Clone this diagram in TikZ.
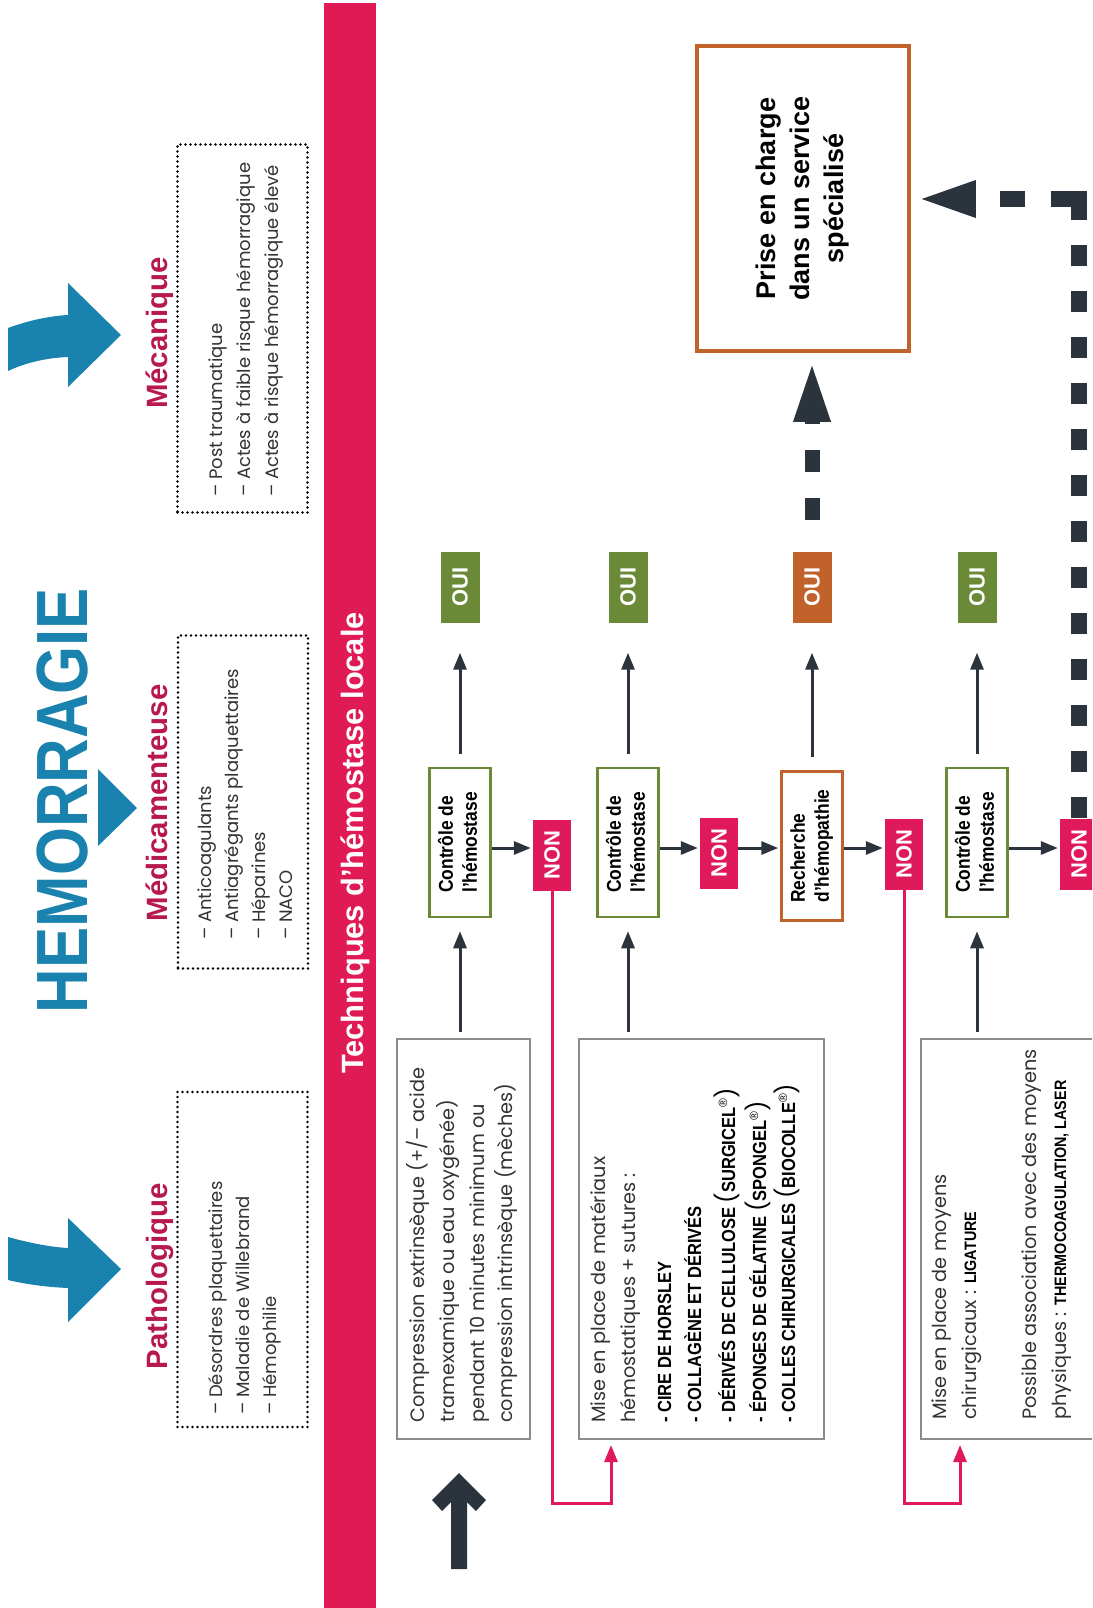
\documentclass[tikz,border=0pt]{standalone}
\usepackage{fontspec}
\usepackage{graphicx}
\setmainfont{Liberation Sans}
\newfontfamily\fut{Poppins}
\newfontfamily\hel{Liberation Sans}
\newfontfamily\helc[FakeStretch=0.87]{Liberation Sans}
\usetikzlibrary{arrows.meta}
\definecolor{blu}{HTML}{1A82AE}
\definecolor{crim}{HTML}{B7194F}
\definecolor{band}{HTML}{E01A55}
\definecolor{nonc}{HTML}{E0195A}
\definecolor{grn}{HTML}{6A8A37}
\definecolor{org}{HTML}{C0622A}
\definecolor{drk}{HTML}{2B333D}
\definecolor{bodyc}{HTML}{333333}
\definecolor{gboxc}{HTML}{8C8C8C}
\newcommand\bpar[1]{{\fut\mdseries\fontsize{23}{23}\selectfont #1}}
\newcommand\regm{\raisebox{8pt}{\hel\mdseries\fontsize{12}{12}\selectfont ®}}
\newcommand\capsb[1]{{\helc\bfseries\fontsize{16.5}{20}\selectfont\color{black}#1}}
\begin{document}
\begin{tikzpicture}[x=1pt,y=-1pt,
  rot/.style={rotate=90, inner sep=0pt},
  tline/.style={rot, anchor=base west, text=bodyc, font=\fut\fontsize{18}{22}\selectfont},
  tlineb/.style={rot, anchor=base west, text=bodyc, font=\fut\fontsize{19.3}{22}\selectfont},
  capl/.style={rot, anchor=base west, text=black, font=\helc\bfseries\fontsize{19}{22}\selectfont},
  ttl/.style={rot, anchor=base, text=crim, font=\hel\bfseries\fontsize{29.4}{32}\selectfont},
  dotbox/.style={draw=black, line width=2.6pt, dash pattern=on 0pt off 5pt, line cap=round, inner sep=0pt},
  graybox/.style={draw=gboxc, line width=2pt, inner sep=0pt, minimum height=400pt},
  ctrlbox/.style={draw=grn, line width=2.5pt, minimum width=61pt, minimum height=149pt, inner sep=0pt, font=\helc\bfseries\fontsize{20}{24}\selectfont},
  ouibox/.style={fill=grn, minimum width=39pt, minimum height=71pt, inner sep=0pt, text=white, font=\hel\bfseries\fontsize{22}{22}\selectfont},
  nonbox/.style={fill=nonc, minimum width=38pt, minimum height=71pt, inner sep=0pt, text=white, font=\hel\bfseries\fontsize{22}{22}\selectfont},
  arr/.style={draw=drk, line width=3pt, -{Triangle[length=17pt,width=13pt]}},
  parr/.style={draw=nonc, line width=3pt, -{Triangle[length=17pt,width=13pt]}},
  thdash/.style={draw=drk, line width=16pt}
]
\clip (0,0) rectangle (1092,1608);
\useasboundingbox (0,0) rectangle (1092,1608);
\fill[white] (0,0) rectangle (1092,1608);

% ---- title and blue arrows
\node[rot, anchor=base, text=blu, font=\hel\bfseries\fontsize{72.6}{72}\selectfont] (hem) at (87,800.5) {\scalebox{0.85}[1]{HEMORRAGIE}};
\fill[blu] (8,328) .. controls (30,320) and (50,316) .. (68,315) -- (68,283) -- (121,335) -- (68,387) -- (68,357) .. controls (45,358) and (25,363) .. (8,371) -- cycle;
\fill[blu] (8,1237) .. controls (30,1243) and (50,1247) .. (68,1248) -- (68,1218) -- (121,1269) -- (68,1322) -- (68,1288) .. controls (45,1287) and (25,1284) .. (8,1280) -- cycle;
\fill[blu] (98,769) -- (137,808) -- (98,846) -- cycle;

% ---- categories
\node[ttl] (tmeca) at (167,333) {Mécanique};
\node[ttl] (tmed) at (167,803) {Médicamenteuse};
\node[ttl] (tpat) at (167,1276) {Pathologique};

\node[dotbox, minimum width=130pt, minimum height=368pt] (bmeca) at (242.5,328.5) {};
\node[dotbox, minimum width=130pt, minimum height=333pt] (bmed) at (243,802) {};
\node[dotbox, minimum width=130pt, minimum height=335pt] (bpat) at (242.5,1259.5) {};

\node[tline] (me1) at (222,497) {– Post traumatique};
\node[tline] (me2) at (250,497) {– Actes à faible risque hémorragique};
\node[tline] (me3) at (278,497) {– Actes à risque hémorragique élevé};

\node[tline] (md1) at (211,940) {– Anticoagulants};
\node[tline] (md2) at (238,940) {– Antiagrégants plaquettaires};
\node[tline] (md3) at (265,940) {– Héparines};
\node[tline] (md4) at (292,940) {– NACO};

\node[tline] (pa1) at (222,1415) {– Désordres plaquettaires};
\node[tline] (pa2) at (249,1415) {– Maladie de Willebrand};
\node[tline] (pa3) at (276,1415) {– Hémophilie};

% ---- band
\fill[band] (324,3) rectangle (376,1608);
\node[rot, anchor=base, text=white, font=\hel\bfseries\fontsize{30.8}{32}\selectfont] (tech) at (363,843) {Techniques d’hémostase locale};

% ---- technique boxes
\node[graybox, minimum width=133pt] (comp) at (463.5,1239) {};
\node[graybox, minimum width=245pt] (mat) at (701.5,1239) {};
\node[graybox, minimum width=180pt] (moy) at (1011,1239) {};

\node[tlineb] (co1) at (424,1423) {Compression extrinsèque (+/– acide};
\node[tlineb] (co2) at (454,1423) {tramexamique ou eau oxygénée)};
\node[tlineb] (co3) at (484,1423) {pendant 10 minutes minimum ou};
\node[tlineb] (co4) at (512,1423) {compression intrinsèque (mèches)};

\node[tlineb] (ma1) at (605,1423) {Mise en place de matériaux};
\node[tlineb] (ma2) at (635,1423) {hémostatiques + sutures :};
\node[capl] (ma3) at (671,1423) {- CIRE DE HORSLEY};
\node[capl] (ma4) at (701,1423) {- COLLAGÈNE ET DÉRIVÉS};
\node[capl] (ma5) at (735,1423) {- DÉRIVÉS DE CELLULOSE \bpar{(}SURGICEL\regm\bpar{)}};
\node[capl] (ma6) at (766,1423) {- ÉPONGES DE GÉLATINE \bpar{(}SPONGEL\regm\bpar{)}};
\node[capl] (ma7) at (795,1423) {- COLLES CHIRURGICALES \bpar{(}BIOCOLLE\regm\bpar{)}};

\node[tlineb] (mo1) at (946,1420) {Mise en place de moyens};
\node[tlineb] (mo2) at (976,1420) {chirurgicaux : \capsb{LIGATURE}};
\node[tlineb] (mo3) at (1036,1420) {Possible association avec des moyens};
\node[tlineb] (mo4) at (1066,1420) {physiques : \capsb{THERMOCOAGULATION, LASER}};

% ---- decision column
\node[ctrlbox] (c1) at (460,842.5) {\rotatebox{90}{\begin{tabular}{@{}l@{}}Contrôle de\\l’hémostase\end{tabular}}};
\node[ctrlbox] (c2) at (628,842.5) {\rotatebox{90}{\begin{tabular}{@{}l@{}}Contrôle de\\l’hémostase\end{tabular}}};
\node[ctrlbox, draw=org] (rech) at (812,846) {\rotatebox{90}{\begin{tabular}{@{}l@{}}Recherche\\d’hémopathie\end{tabular}}};
\node[ctrlbox] (c4) at (977,842.5) {\rotatebox{90}{\begin{tabular}{@{}l@{}}Contrôle de\\l’hémostase\end{tabular}}};

\node[ouibox] (oui1) at (460,587) {\rotatebox{90}{OUI}};
\node[ouibox] (oui2) at (628,587) {\rotatebox{90}{OUI}};
\node[ouibox, fill=org] (oui3) at (812,587) {\rotatebox{90}{OUI}};
\node[ouibox] (oui4) at (977,587) {\rotatebox{90}{OUI}};

\node[nonbox] (non1) at (552,855) {\rotatebox{90}{NON}};
\node[nonbox] (non2) at (719,853) {\rotatebox{90}{NON}};
\node[nonbox] (non3) at (904,854) {\rotatebox{90}{NON}};

% ---- specialised service
\node[draw=org, line width=3.5pt, minimum width=212pt, minimum height=305pt, inner sep=0pt, font=\hel\bfseries\fontsize{27}{34}\selectfont] (prise) at (803,198.5) {\rotatebox{90}{\begin{tabular}{@{}c@{}}Prise en charge\\dans un service\\spécialisé\end{tabular}}};

% ---- thick dashed arrows
\coordinate (corner) at (1079,199);
\draw[thdash, dash pattern=on 21pt off 25pt] (1079,818) -- (corner);
\draw[thdash, dash pattern=on 36pt off 26pt on 25pt off 100pt] ([xshift=8pt]corner) -- ([xshift=65pt]prise.east |- corner);
\fill[drk, shift={(prise.east |- corner)}] (11,0) -- (65,-19) -- (65,19) -- cycle;
\draw[thdash, line width=15pt, dash pattern=on 22pt off 26pt, shorten <=31pt, shorten >=69pt] (oui3.north) -- (prise.south -| oui3.north);
\fill[drk, shift={(prise.south -| oui3.north)}] (0,13) -- (-19,69) -- (19,69) -- cycle;
\node[nonbox] (non4) at (1079,854) {\rotatebox{90}{NON}};

% ---- connectors
\coordinate (hy) at (0,848);
\draw[arr, shorten >=2pt] (c1.east |- hy) -- (non1.west |- hy);
\draw[arr, shorten >=2pt] (c2.east |- hy) -- (non2.west |- hy);
\draw[arr, shorten >=2pt] (non2.east |- hy) -- (rech.west |- hy);
\draw[arr, shorten >=2pt] (rech.east |- hy) -- (non3.west |- hy);
\draw[arr, shorten >=2pt] (c4.east |- hy) -- (non4.west |- hy);

\draw[arr, shorten <=13pt, shorten >=30pt] (c1.north) -- (oui1.south);
\draw[arr, shorten <=13pt, shorten >=30pt] (c2.north) -- (oui2.south);
\draw[arr, shorten <=13pt, shorten >=30pt] (rech.north) -- (oui3.south);
\draw[arr, shorten <=13pt, shorten >=30pt] (c4.north) -- (oui4.south);

\draw[arr, shorten <=6pt, shorten >=13pt] (comp.north -| c1.south) -- (c1.south);
\draw[arr, shorten <=6pt, shorten >=13pt] (mat.north -| c2.south) -- (c2.south);
\draw[arr, shorten <=6pt, shorten >=13pt] (moy.north -| c4.south) -- (c4.south);

\coordinate (pk1) at (611,1503);
\coordinate (pk2) at (960,1503);
\draw[parr, shorten >=5pt] (non1.south) |- (pk1) -- (pk1 |- mat.south);
\draw[parr, shorten >=5pt] (non3.south) |- (pk2) -- (pk2 |- moy.south);

% ---- start arrow
\fill[drk] (459,1473) -- (486,1500) -- (476,1511) -- (467,1502) -- (467,1569) -- (451,1569) -- (451,1502) -- (442,1511) -- (432,1500) -- cycle;
\end{tikzpicture}
\end{document}
